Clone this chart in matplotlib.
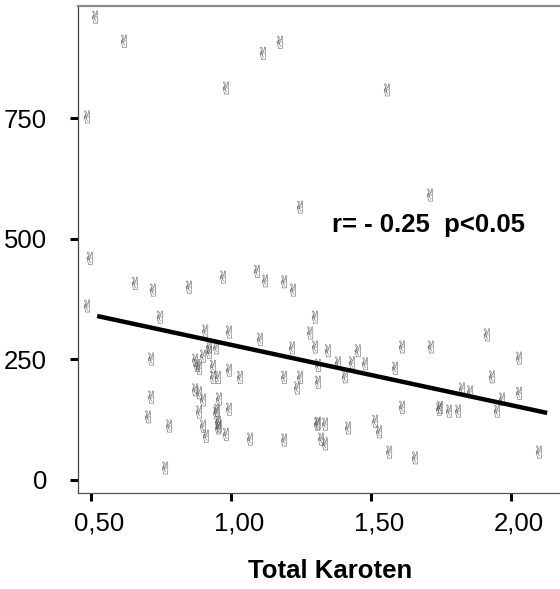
import matplotlib
matplotlib.use("Agg")
import matplotlib.pyplot as plt
import numpy as np
from matplotlib.textpath import TextPath
from matplotlib.font_manager import FontProperties
from matplotlib.path import Path
from matplotlib.transforms import ScaledTranslation

# ---------------- data ----------------
karoten = [0.509, 0.612, 1.169, 1.108, 0.976, 0.480, 1.551, 1.705, 1.241, 0.490,
           0.651, 0.715, 0.844, 0.966, 1.087, 1.116, 1.184, 1.216, 0.480, 0.740,
           1.294, 0.902, 0.987, 1.098, 1.212, 1.277, 0.709, 0.866, 0.873, 0.880,
           0.894, 0.916, 0.916, 0.941, 0.930, 0.930, 0.948, 0.987, 1.026, 1.184,
           1.241, 1.230, 0.709, 0.866, 0.880, 0.894, 0.880, 0.698, 0.773, 0.894,
           0.905, 0.951, 0.944, 0.941, 0.948, 0.951, 0.948, 0.987, 0.976, 1.062,
           1.184, 0.759, 1.294, 1.340, 1.447, 1.605, 1.708, 1.908, 2.023, 1.305,
           1.376, 1.426, 1.473, 1.580, 1.305, 1.401, 1.926, 1.819, 1.848, 1.962,
           2.023, 1.605, 1.741, 1.737, 1.773, 1.805, 1.944, 1.305, 1.330, 1.301,
           1.412, 1.509, 1.523, 1.316, 1.330, 1.559, 1.651, 2.094]
values = [960, 910, 908, 885, 813, 753, 809, 591, 566, 460,
          408, 394, 400, 421, 433, 413, 411, 394, 361, 338,
          338, 309, 307, 292, 274, 305, 251, 249, 238, 232,
          257, 265, 276, 274, 236, 213, 213, 228, 213, 213,
          213, 191, 172, 187, 181, 166, 141, 131, 112, 112,
          91, 168, 145, 139, 120, 112, 108, 147, 95, 85,
          83, 25, 276, 268, 268, 276, 276, 301, 253, 238,
          243, 243, 241, 232, 203, 214, 214, 189, 183, 168,
          180, 151, 151, 147, 143, 143, 143, 118, 116, 116,
          108, 122, 100, 85, 75, 58, 46, 58]
fit_x = [0.523, 2.13]
fit_y = [340, 139]
x_ticks = [0.5, 1.0, 1.5, 2.0]
x_ticklabels = ["0,50", "1,00", "1,50", "2,00"]
y_ticks = [0, 250, 500, 750]
y_ticklabels = ["0", "250", "500", "750"]
x_label = "Total Karoten"
annotation = "r= - 0.25  p<0.05"

# ---------------- figure ----------------
plt.rcParams['font.family'] = ['Liberation Sans', 'DejaVu Sans']
fig = plt.figure(figsize=(5.6, 5.89), dpi=100)
ax = fig.add_axes([0.1388, 0.163, 1.0 - 0.1388, 0.9898 - 0.163])

# marker from the victory-hand glyph
tp = TextPath((0, 0), "\u270c", size=10, prop=FontProperties(family="DejaVu Sans"))
verts = tp.vertices.copy()
cx = (verts[:, 0].min() + verts[:, 0].max()) / 2
cy = (verts[:, 1].min() + verts[:, 1].max()) / 2
verts[:, 0] -= cx
verts[:, 1] -= cy
hand = Path(verts, tp.codes)

ax.scatter(karoten, values, marker=hand, s=85, facecolors="#555555",
           edgecolors="none", zorder=2)
ax.plot(fit_x, fit_y, color="black", linewidth=3.2, solid_capstyle="butt", zorder=3)

ax.set_xlim(0.4536, 2.176)
ax.set_ylim(-27, 982.8)
ax.set_xticks(x_ticks)
ax.set_xticklabels(x_ticklabels)
ax.set_yticks(y_ticks)
ax.set_yticklabels(y_ticklabels)
ax.tick_params(axis="both", direction="out", length=6, width=2.2, color="black",
               labelsize=18.5)
ax.tick_params(axis="x", pad=7)
ax.tick_params(axis="y", pad=16)
for lbl in ax.get_xticklabels():
    lbl.set_transform(lbl.get_transform() + ScaledTranslation(8 / 100, 0, fig.dpi_scale_trans))

ax.spines["right"].set_visible(False)
ax.spines["top"].set_color("#8a8a8a")
ax.spines["top"].set_linewidth(1.6)
ax.spines["left"].set_color("#444444")
ax.spines["left"].set_linewidth(0.9)
ax.spines["bottom"].set_color("#555555")
ax.spines["bottom"].set_linewidth(0.9)

ax.text(1.706, 529, annotation, ha="center", va="center", fontsize=18.5,
        fontweight="bold", color="black")
fig.text(330 / 560, 1 - 578 / 589, x_label, ha="center", va="baseline",
         fontsize=18.5, fontweight="bold")

fig.savefig("out.png", dpi=100)
